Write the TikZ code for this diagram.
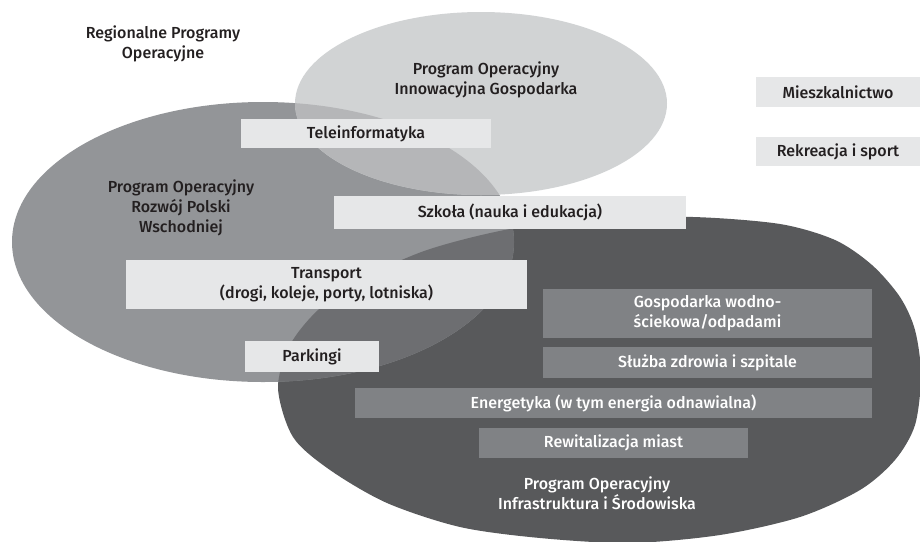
\documentclass[tikz,border=0pt]{standalone}
\usepackage{fontspec}
\setmainfont{Fira Sans}[BoldFont={Fira Sans Medium}]
\definecolor{ellTop}{HTML}{D1D3D4}
\definecolor{ellLeft}{HTML}{939598}
\definecolor{ellBottom}{HTML}{58595B}
\definecolor{ovTopLeft}{HTML}{B5B6B8}
\definecolor{ovLeftBottom}{HTML}{6D6E71}
\definecolor{boxLight}{HTML}{E6E7E8}
\definecolor{boxDark}{HTML}{808285}
\definecolor{inkDark}{HTML}{231F20}

% outline of the large lower programme area
\def\bottomshape{plot[smooth cycle] coordinates {
  (278,388) (290,345) (318,310) (360,280) (427,250) (510,229) (600,219)
  (693,217) (780,224) (835,240) (872,265) (900,297) (915,330) (921,375)
  (915,425) (895,460) (860,490) (800,517) (720,535) (630,543) (540,538)
  (460,527) (387,503) (330,470) (293,437)}}
\def\topellipse{(481,103.5) ellipse [x radius=186, y radius=91.5]}
\def\leftellipse{(263,242) ellipse [x radius=251, y radius=140]}

\begin{document}
\begin{tikzpicture}[x=1pt,y=-1pt,
  every node/.style={font=\fontsize{16}{20}\selectfont\bfseries, inner sep=0pt},
  lightbox/.style={fill=boxLight, text=inkDark, align=center},
  darkbox/.style={fill=boxDark, text=white, align=center},
  darklabel/.style={text=inkDark, align=center},
  whitelabel/.style={text=white, align=center}]
\useasboundingbox (0,0) rectangle (920,541);
\clip (0,0) rectangle (920,541);

% programme areas
\fill[ellBottom] \bottomshape;
\fill[ellLeft] \leftellipse;
\fill[ellTop] \topellipse;
\begin{scope}
  \clip \leftellipse;
  \fill[ovTopLeft] \topellipse;
\end{scope}
\begin{scope}
  \clip \bottomshape;
  \fill[ovLeftBottom] \leftellipse;
\end{scope}

% programme names
\node[darklabel] (rpo) at (163,44) {Regionalne Programy\\Operacyjne};
\node[darklabel] (poig) at (486,80) {Program Operacyjny\\Innowacyjna Gospodarka};
\node[darklabel] (porpw) at (181,208) {Program Operacyjny\\Rozwój Polski\\Wschodniej};
\node[whitelabel] (poiis) at (597,493) {Program Operacyjny\\Infrastruktura i Środowiska};

% sectors
\node[lightbox, minimum width=250pt, minimum height=29pt] (tele) at (366,133.5) {Teleinformatyka};
\node[lightbox, minimum width=352pt, minimum height=33pt] (szkola) at (510,212.5) {Szkoła (nauka i edukacja)};
\node[lightbox, minimum width=401pt, minimum height=49pt] (transport) at (326.5,284.5) {Transport\\(drogi, koleje, porty, lotniska)};
\node[lightbox, minimum width=134pt, minimum height=31pt] (parking) at (312,356.5) {Parkingi};
\node[darkbox, minimum width=329pt, minimum height=49pt] (woda) at (707.5,313.5) {Gospodarka wodno-\\ściekowa/odpadami};
\node[darkbox, minimum width=329pt, minimum height=31pt] (zdrowie) at (707.5,362.5) {Służba zdrowia i szpitale};
\node[darkbox, minimum width=517pt, minimum height=30pt] (energia) at (613.5,403) {Energetyka (w tym energia odnawialna)};
\node[darkbox, minimum width=269pt, minimum height=30pt] (rewit) at (613.5,443) {Rewitalizacja miast};
\node[lightbox, minimum width=164pt, minimum height=30pt] (mieszk) at (838,92) {Mieszkalnictwo};
\node[lightbox, minimum width=164pt, minimum height=29pt] (rekr) at (838,151.5) {Rekreacja i sport};
\end{tikzpicture}
\end{document}
